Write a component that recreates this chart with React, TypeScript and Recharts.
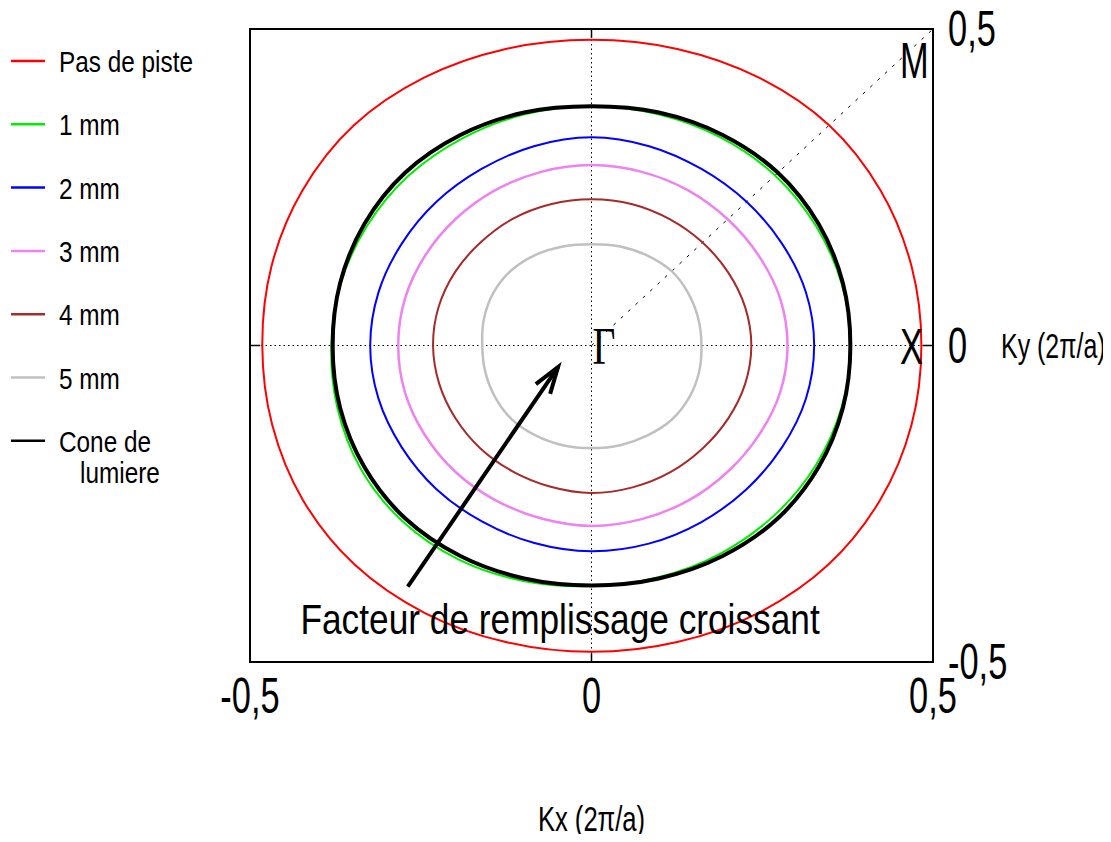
import React from "react";
import {
  LineChart,
  Line,
  XAxis,
  YAxis,
  ReferenceLine,
  ReferenceArea,
  ReferenceDot,
} from "recharts";

const SANS = '"Liberation Sans", Arial, sans-serif';
const SERIF = '"Liberation Serif", "DejaVu Serif", serif';
const NARROW_X = 0.82; // no narrow font installed, squeeze the sans instead

// angle (deg) at which each contour radius was read, in k-space
const ANGLES = [0, 15, 30, 45, 60, 75, 90, 105, 120, 135, 150, 165, 180, 195, 210, 225, 240, 255, 270, 285, 300, 315, 330, 345];

// iso-frequency contour radii (2pi/a) for each configuration
const pasDePiste = [0.483, 0.485, 0.489, 0.492, 0.489, 0.485, 0.483, 0.485, 0.489, 0.492, 0.489, 0.485, 0.482, 0.484, 0.488, 0.490, 0.488, 0.485, 0.484, 0.485, 0.488, 0.490, 0.488, 0.485];
const mm1 = [0.380, 0.379, 0.379, 0.380, 0.379, 0.378, 0.378, 0.378, 0.378, 0.379, 0.379, 0.380, 0.381, 0.385, 0.390, 0.392, 0.390, 0.385, 0.380, 0.379, 0.379, 0.379, 0.379, 0.379];
const mm2 = [0.326, 0.325, 0.322, 0.321, 0.322, 0.326, 0.329, 0.326, 0.322, 0.321, 0.321, 0.323, 0.324, 0.323, 0.321, 0.321, 0.321, 0.323, 0.325, 0.324, 0.322, 0.321, 0.322, 0.325];
const mm3 = [0.287, 0.286, 0.283, 0.282, 0.283, 0.284, 0.285, 0.284, 0.283, 0.282, 0.282, 0.283, 0.283, 0.283, 0.282, 0.282, 0.282, 0.283, 0.285, 0.284, 0.283, 0.282, 0.283, 0.286];
const mm4 = [0.234, 0.233, 0.231, 0.230, 0.230, 0.231, 0.231, 0.231, 0.231, 0.230, 0.231, 0.232, 0.232, 0.231, 0.230, 0.230, 0.230, 0.231, 0.233, 0.232, 0.231, 0.230, 0.231, 0.233];
const mm5 = [0.161, 0.162, 0.164, 0.166, 0.164, 0.162, 0.160, 0.162, 0.165, 0.167, 0.166, 0.163, 0.160, 0.161, 0.163, 0.165, 0.164, 0.163, 0.162, 0.163, 0.164, 0.166, 0.165, 0.163];
const coneDeLumiere = [0.379, 0.381, 0.384, 0.386, 0.384, 0.381, 0.378, 0.381, 0.384, 0.386, 0.384, 0.381, 0.379, 0.381, 0.384, 0.386, 0.384, 0.381, 0.379, 0.381, 0.384, 0.386, 0.384, 0.381];

const TICKS = [-0.5, 0, 0.5];

const toPoints = (radii: number[]) =>
  radii.map((r, i) => {
    const a = (ANGLES[i] * Math.PI) / 180;
    return { kx: r * Math.cos(a), ky: r * Math.sin(a) };
  });

// closed catmull-rom, so the contours come back smoothly onto their start
const closedCurve = (context: any) => {
  let pts: number[][] = [];
  return {
    areaStart() {},
    areaEnd() {},
    lineStart() {
      pts = [];
    },
    point(x: number, y: number) {
      pts.push([x, y]);
    },
    lineEnd() {
      const n = pts.length;
      if (n < 3) return;
      context.moveTo(pts[0][0], pts[0][1]);
      for (let i = 0; i < n; i++) {
        const p0 = pts[(i - 1 + n) % n];
        const p1 = pts[i];
        const p2 = pts[(i + 1) % n];
        const p3 = pts[(i + 2) % n];
        context.bezierCurveTo(
          p1[0] + (p2[0] - p0[0]) / 6,
          p1[1] + (p2[1] - p0[1]) / 6,
          p2[0] - (p3[0] - p1[0]) / 6,
          p2[1] - (p3[1] - p1[1]) / 6,
          p2[0],
          p2[1]
        );
      }
      context.closePath();
    },
  };
};

const series = [
  { name: "Pas de piste", radii: pasDePiste, color: "#ff0000", width: 2 },
  { name: "1 mm", radii: mm1, color: "#00ee00", width: 2 },
  { name: "2 mm", radii: mm2, color: "#0000ff", width: 2 },
  { name: "3 mm", radii: mm3, color: "#ee82ee", width: 2.5 },
  { name: "4 mm", radii: mm4, color: "#a52a2a", width: 2 },
  { name: "5 mm", radii: mm5, color: "#c0c0c0", width: 2.5 },
  { name: "Cone de|lumiere", radii: coneDeLumiere, color: "#000000", width: 4 },
];

const fmt = (v: number) => String(v).replace(".", ",");

const XTick = ({ x, y, payload }: any) => (
  <text
    transform={`translate(${x},${y + 51}) scale(${NARROW_X},1.18)`}
    textAnchor="middle"
    fontFamily={SANS}
    fontSize={42}
    fill="#000"
  >
    {fmt(payload.value)}
  </text>
);

const YTick = ({ x, y, payload }: any) => (
  <text
    transform={`translate(${x + 15},${y + 17}) scale(${NARROW_X},1.18)`}
    textAnchor="start"
    fontFamily={SANS}
    fontSize={42}
    fill="#000"
  >
    {fmt(payload.value)}
  </text>
);

const Arrow = (p: any) => {
  const { x1, y1, x2, y2 } = p;
  const ang = Math.atan2(y1 - y2, x1 - x2);
  const len = 28;
  const spread = (18 * Math.PI) / 180;
  const wa = [ang - spread, ang + spread].map((a) => [x2 + len * Math.cos(a), y2 + len * Math.sin(a)]);
  return (
    <g stroke="#000" strokeWidth={4} fill="none">
      <line x1={x1} y1={y1} x2={x2} y2={y2} />
      <polyline points={`${wa[0][0]},${wa[0][1]} ${x2},${y2} ${wa[1][0]},${wa[1][1]}`} strokeLinejoin="miter" />
    </g>
  );
};

const textAt = (label: string, dx: number, dy: number, opts: any = {}) => (p: any) => (
  <text
    transform={`translate(${p.cx + dx},${p.cy + dy}) scale(${opts.sx ?? NARROW_X},${opts.sy ?? 1})`}
    textAnchor={opts.anchor ?? "start"}
    fontFamily={opts.font ?? SANS}
    fontSize={opts.size ?? 42}
    fill="#000"
  >
    {label}
  </text>
);

function Legend() {
  return (
    <svg width={240} height={520} style={{ position: "absolute", left: 0, top: 0 }}>
      {series.map((s, i) => {
        const cy = 61 + i * 63.3;
        const lines = s.name.split("|");
        return (
          <g key={s.name}>
            <line x1={11} x2={45} y1={cy} y2={cy} stroke={s.color} strokeWidth={2.5} />
            {lines.map((t, j) => (
              <text
                key={t}
                transform={`translate(${59 + j * 21},${cy + 11 + j * 31}) scale(0.84,1)`}
                fontFamily={SANS}
                fontSize={29}
                fill="#000"
              >
                {t}
              </text>
            ))}
          </g>
        );
      })}
    </svg>
  );
}

export default function App() {
  return (
    <div style={{ position: "relative", width: 1111, height: 842, margin: -8 }}>
      <LineChart width={1111} height={842} margin={{ top: 29, right: 118, bottom: 140, left: 250 }}>
        <XAxis
          type="number"
          dataKey="kx"
          domain={[-0.5, 0.5]}
          ticks={TICKS}
          interval={0}
          allowDataOverflow
          axisLine={false}
          tickLine={false}
          tickSize={0}
          tickMargin={0}
          height={40}
          tick={<XTick />}
        />
        <YAxis
          type="number"
          dataKey="ky"
          orientation="right"
          domain={[-0.5, 0.5]}
          ticks={TICKS}
          interval={0}
          allowDataOverflow
          axisLine={false}
          tickLine={false}
          tickSize={0}
          tickMargin={0}
          width={60}
          tick={<YTick />}
        />
        <ReferenceArea x1={-0.5} x2={0.5} y1={-0.5} y2={0.5} fill="none" stroke="#000" strokeWidth={2} />
        <ReferenceLine x={0} stroke="#000" strokeWidth={1} strokeDasharray="1.5 3" />
        <ReferenceLine y={0} stroke="#000" strokeWidth={1} strokeDasharray="1.5 3" />
        <ReferenceLine segment={[{ x: 0, y: 0 }, { x: 0.5, y: 0.5 }]} stroke="#000" strokeWidth={1} strokeDasharray="3 7" />
        <ReferenceLine segment={[{ x: 0, y: 0.5 }, { x: 0, y: 0.486 }]} stroke="#000" strokeWidth={1.5} />
        <ReferenceLine segment={[{ x: 0, y: -0.5 }, { x: 0, y: -0.486 }]} stroke="#000" strokeWidth={1.5} />
        <ReferenceLine segment={[{ x: 0.5, y: 0 }, { x: 0.485, y: 0 }]} stroke="#000" strokeWidth={1.5} />
        <ReferenceLine segment={[{ x: -0.5, y: 0 }, { x: -0.485, y: 0 }]} stroke="#000" strokeWidth={1.5} />

        {series.map((s) => (
          <Line
            key={s.name}
            name={s.name}
            data={toPoints(s.radii)}
            dataKey="ky"
            type={closedCurve as any}
            stroke={s.color}
            strokeWidth={s.width}
            dot={false}
            activeDot={false}
            isAnimationActive={false}
          />
        ))}

        <ReferenceLine segment={[{ x: -0.269, y: -0.381 }, { x: -0.049, y: -0.034 }]} shape={Arrow} />
        <ReferenceDot x={0.5} y={0.5} r={0} shape={textAt("M", -33, 49, { sy: 1.18 })} />
        <ReferenceDot x={0.5} y={0} r={0} shape={textAt("X", -33, 18, { sy: 1.18 })} />
        <ReferenceDot x={0} y={0} r={0} shape={textAt("Γ", 1, 18, { font: SERIF, size: 44, sx: 0.9, sy: 1.18 })} />
        <ReferenceDot x={-0.046} y={-0.45} r={0} shape={textAt("Facteur de remplissage croissant", 0, 4, { anchor: "middle", size: 43 })} />
        <ReferenceDot x={0} y={-0.5} r={0} shape={textAt("Kx (2π/a)", 0, 169, { anchor: "middle", size: 32, sx: 0.8, sy: 1.12 })} />
        <ReferenceDot x={0.5} y={0} r={0} shape={textAt("Ky (2π/a)", 68, 12, { size: 32, sx: 0.78, sy: 1.12 })} />
      </LineChart>
      <Legend />
    </div>
  );
}
